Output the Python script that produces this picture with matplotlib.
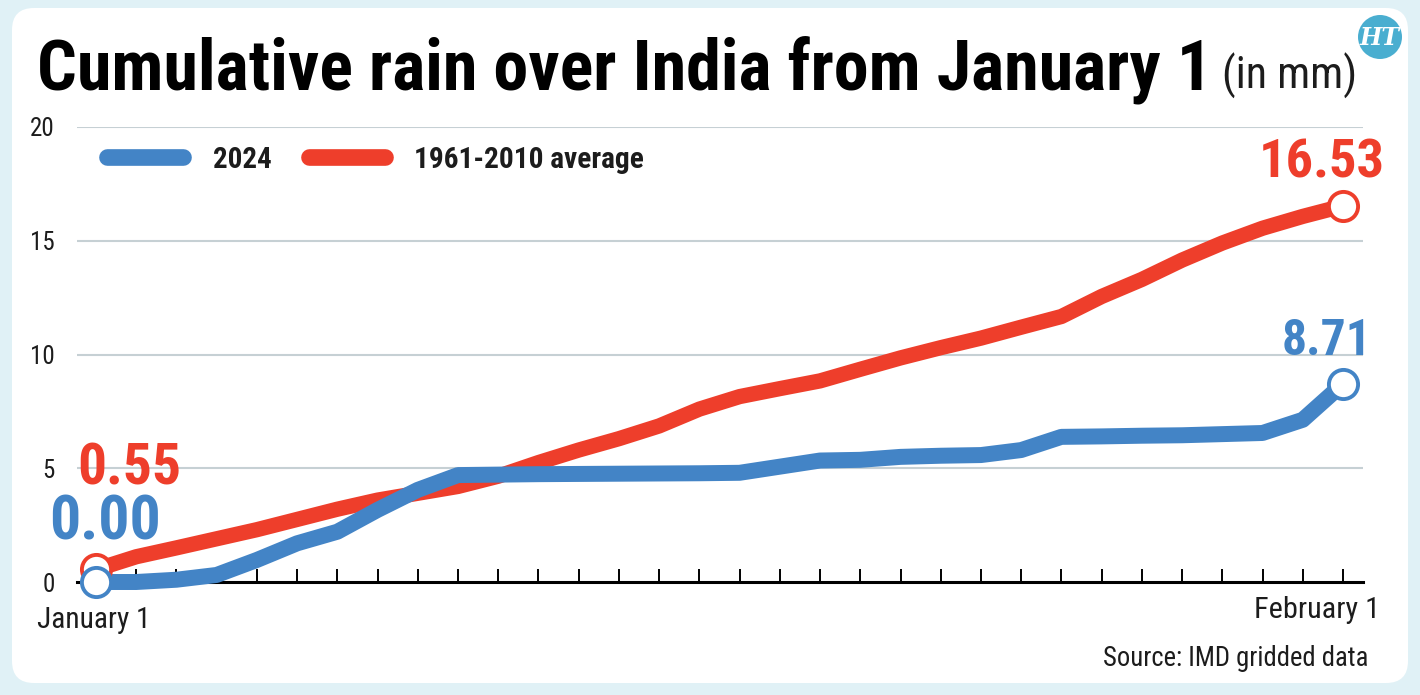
import matplotlib
matplotlib.use("Agg")
import matplotlib.pyplot as plt
from matplotlib import font_manager as fm
from matplotlib.patches import FancyBboxPatch, Circle

# ---------------- data ----------------
days = list(range(32))  # Jan 1 .. Feb 1
rain_2024 = [0.00, 0.00, 0.10, 0.31, 0.97, 1.70, 2.21, 3.17, 4.05, 4.70,
             4.72, 4.74, 4.75, 4.76, 4.77, 4.78, 4.80, 5.07, 5.34, 5.37,
             5.50, 5.55, 5.58, 5.80, 6.38, 6.40, 6.43, 6.45, 6.50, 6.55,
             7.13, 8.71]
rain_avg = [0.55, 1.11, 1.50, 1.90, 2.30, 2.75, 3.20, 3.60, 3.90, 4.20,
            4.65, 5.25, 5.80, 6.30, 6.86, 7.60, 8.15, 8.50, 8.84, 9.35,
            9.85, 10.30, 10.72, 11.20, 11.67, 12.55, 13.30, 14.15, 14.90, 15.55,
            16.07, 16.53]
yticks = [0, 5, 10, 15, 20]
series_names = ["2024", "1961-2010 average"]
title = "Cumulative rain over India from January 1"
unit = "(in mm)"
x_start_label = "January 1"
x_end_label = "February 1"
source = "Source: IMD gridded data"

BLUE = "#4384c6"
RED = "#ee3e2b"
OUTER = "#e0f1f6"
GRID = "#c6d0d4"
TXT = "#1c1c1c"

installed = {f.name for f in fm.fontManager.ttflist}
cands = ["Roboto Condensed", "Open Sans Condensed", "Liberation Sans Narrow",
         "Noto Sans Condensed", "DejaVu Sans Condensed", "Roboto", "DejaVu Sans"]
NARROW = [c for c in cands if c in installed] or ["DejaVu Sans"]

W, H = 1420, 695
fig = plt.figure(figsize=(W / 100, H / 100), dpi=100)
fig.patch.set_facecolor(OUTER)

bg = fig.add_axes([0, 0, 1, 1])
bg.set_xlim(0, W)
bg.set_ylim(H, 0)
bg.axis("off")
bg.patch.set_alpha(0)
bg.add_patch(FancyBboxPatch((12, 8), 1396, 675,
                            boxstyle="round,pad=0,rounding_size=22",
                            fc="white", ec="none", zorder=0))

renderer = fig.canvas.get_renderer()


def fit(t, width_px):
    bb = t.get_window_extent(renderer)
    t.set_fontsize(t.get_fontsize() * width_px / bb.width)


t = bg.text(37, 89, title, fontsize=46, fontweight="black", family=NARROW,
            color="black", ha="left", va="baseline", zorder=2)
fit(t, 1175)
t2 = bg.text(1222, 89, unit, fontsize=30, family=NARROW, color=TXT,
             ha="left", va="baseline", zorder=2)
fit(t2, 135)

bg.add_patch(Circle((1380, 37), 22, fc="#4aaed0", ec="none", zorder=2))
bg.text(1380, 38, "HT", fontsize=17, family=["DejaVu Serif"], fontweight="bold",
        fontstyle="italic", color="white", ha="center", va="center", zorder=3)

bg.plot([107, 183], [157, 157], color=BLUE, lw=12, solid_capstyle="round", zorder=2)
bg.plot([309, 385], [157, 157], color=RED, lw=12, solid_capstyle="round", zorder=2)
l1 = bg.text(213, 168, series_names[0], fontsize=25, fontweight="bold", family=NARROW,
             color=TXT, ha="left", va="baseline", zorder=2)
fit(l1, 59)
l2 = bg.text(414, 168, series_names[1], fontsize=25, fontweight="bold", family=NARROW,
             color=TXT, ha="left", va="baseline", zorder=2)
fit(l2, 231)

a = bg.text(37, 628, x_start_label, fontsize=20, family=NARROW, color=TXT,
            ha="left", va="baseline", zorder=2)
fit(a, 113)
b = bg.text(1380, 618, x_end_label, fontsize=20, family=NARROW, color=TXT,
            ha="right", va="baseline", zorder=2)
fit(b, 125)
s = bg.text(1368, 666, source, fontsize=20, family=NARROW, color=TXT,
            ha="right", va="baseline", zorder=2)
fit(s, 265)

# ---------------- main chart axes ----------------
x0_px, x1_px = 77, 1363
ytop_px, ybot_px = 127, 582
ax = fig.add_axes([x0_px / W, (H - ybot_px) / H, (x1_px - x0_px) / W, (ybot_px - ytop_px) / H])
ax.patch.set_alpha(0)
ppd = (1343 - 96) / 31.0
ax.set_xlim(-(96 - x0_px) / ppd, 31 + (x1_px - 1343) / ppd)
ax.set_ylim(0, 20)

for sp in ["top", "right", "left"]:
    ax.spines[sp].set_visible(False)
ax.spines["bottom"].set_linewidth(2.2)
ax.spines["bottom"].set_color("black")
ax.spines["bottom"].set_zorder(2)

ax.set_xticks(days)
ax.set_xticklabels([])
ax.tick_params(axis="x", direction="in", length=9.5, width=1.4, color="black")
ax.set_yticks(yticks)
ax.set_yticklabels([str(v) for v in yticks], fontsize=18, family=NARROW, color=TXT)
ax.tick_params(axis="y", length=0, pad=16)
for v in yticks[1:]:
    ax.axhline(v, color=GRID, lw=1.5, zorder=1)

ax.plot(days, rain_avg, color=RED, lw=11, solid_joinstyle="round",
        solid_capstyle="butt", zorder=3, clip_on=False)
ax.plot(days, rain_2024, color=BLUE, lw=11.5, solid_joinstyle="round",
        solid_capstyle="butt", zorder=4, clip_on=False)

for arr, col, z in [(rain_avg, RED, 5), (rain_2024, BLUE, 6)]:
    ax.plot([days[0], days[-1]], [arr[0], arr[-1]], ls="none", marker="o", ms=21,
            mfc="white", mec=col, mew=2.8, zorder=z, clip_on=False)


def vlabel(x, y, txt, col, dx, dy, width):
    an = ax.annotate(txt, (x, y), xytext=(dx, dy), textcoords="offset pixels",
                     ha="center", va="baseline", fontsize=50, fontweight="bold",
                     family=NARROW, color=col, zorder=7, annotation_clip=False)
    fit(an, width)

vlabel(days[0], rain_avg[0], f"{rain_avg[0]:.2f}", RED, 33, 85, 104)
vlabel(days[0], rain_2024[0], f"{rain_2024[0]:.2f}", BLUE, 9, 42, 112)
vlabel(days[-1], rain_avg[-1], f"{rain_avg[-1]:.2f}", RED, -21, 28, 126)
vlabel(days[-1], rain_2024[-1], f"{rain_2024[-1]:.2f}", BLUE, -16, 29, 90)

fig.savefig("out.png", dpi=100, facecolor=OUTER)
